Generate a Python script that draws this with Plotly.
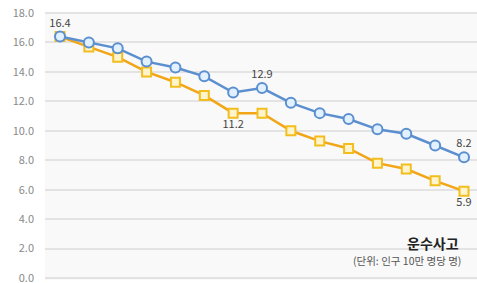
import plotly.graph_objects as go

x_idx = list(range(15))
blue_vals = [16.4, 16.0, 15.6, 14.7, 14.3, 13.7, 12.6, 12.9, 11.9, 11.2, 10.8, 10.1, 9.8, 9.0, 8.2]
orange_vals = [16.4, 15.7, 15.0, 14.0, 13.3, 12.4, 11.2, 11.2, 10.0, 9.3, 8.8, 7.8, 7.4, 6.6, 5.9]
blue_labels = ["16.4", "", "", "", "", "", "", "12.9", "", "", "", "", "", "", "8.2"]
orange_labels = ["", "", "", "", "", "", "11.2", "", "", "", "", "", "", "", "5.9"]
y_ticks = [0, 2, 4, 6, 8, 10, 12, 14, 16, 18]
title_text = "운수사고"
unit_text = "(단위: 인구 10만 명당 명)"

FONT = "Noto Sans CJK KR"

fig = go.Figure()
fig.add_trace(go.Scatter(
    x=x_idx, y=orange_vals, mode="lines+markers+text",
    line=dict(color="#f2a516", width=2.5),
    marker=dict(symbol="square", size=9, color="#fff4cc",
                line=dict(color="#f2be1e", width=2)),
    text=orange_labels, textposition="bottom center",
    textfont=dict(family=FONT, size=11, color="#444444"),
    cliponaxis=False, showlegend=False))
fig.add_trace(go.Scatter(
    x=x_idx, y=blue_vals, mode="lines+markers+text",
    line=dict(color="#5b8fcf", width=2.5),
    marker=dict(symbol="circle", size=10, color="#e2f1ff",
                line=dict(color="#5b8fcf", width=2)),
    text=blue_labels, textposition="top center",
    textfont=dict(family=FONT, size=11, color="#444444"),
    cliponaxis=False, showlegend=False))

fig.add_annotation(text=f"<b>{title_text}</b>", xref="paper", yref="paper",
                   x=0.963, y=0.138, xanchor="right", yanchor="middle", showarrow=False,
                   font=dict(family=FONT, size=14, color="#222222"))
fig.add_annotation(text=unit_text, xref="paper", yref="paper",
                   x=0.967, y=0.071, xanchor="right", yanchor="middle", showarrow=False,
                   font=dict(family=FONT, size=10.5, color="#555555"))

fig.update_layout(
    width=477, height=283,
    margin=dict(l=45, r=0, t=12, b=3, autoexpand=False),
    paper_bgcolor="white", plot_bgcolor="#f9f9f9",
    font=dict(family=FONT),
    xaxis=dict(range=[-0.52, 14.45], showgrid=False, showticklabels=False,
               zeroline=False, fixedrange=True, automargin=False),
    yaxis=dict(range=[-0.136, 18.07], tickvals=y_ticks, tickformat=".1f",
               showgrid=True, gridcolor="#e3e3e3", gridwidth=2, zeroline=False,
               tickfont=dict(family=FONT, size=11, color="#8a8a8a"),
               ticklabelstandoff=10, ticklabeloverflow="allow", automargin=False),
)
fig.write_html("out.html", config={"displayModeBar": False},
               post_script="document.body.style.margin='0';document.body.style.overflow='hidden';")
